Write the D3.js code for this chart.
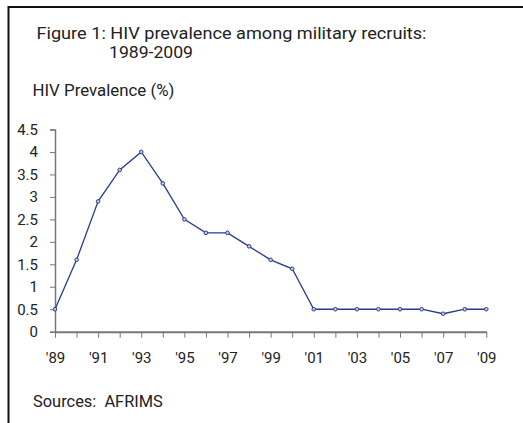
<!DOCTYPE html>
<html><head><meta charset="utf-8">
<script src="https://cdn.jsdelivr.net/npm/d3@7"></script>
<style>
body{margin:0;background:#fff;}
svg{display:block;}
text{font-family:Roboto,"Liberation Sans",sans-serif;fill:#222;white-space:pre;}
</style></head>
<body>
<svg id="c" width="523" height="423"></svg>
<script>
const years = [1989,1990,1991,1992,1993,1994,1995,1996,1997,1998,1999,2000,2001,2002,2003,2004,2005,2006,2007,2008,2009];
const prevalence = [0.5,1.6,2.9,3.6,4.0,3.3,2.5,2.2,2.2,1.9,1.6,1.4,0.5,0.5,0.5,0.5,0.5,0.5,0.4,0.5,0.5];
const yTicks = [0,0.5,1,1.5,2,2.5,3,3.5,4,4.5];
const xTickLabels = [1989,1991,1993,1995,1997,1999,2001,2003,2005,2007,2009];
const titleLine1 = "Figure 1: HIV prevalence among military recruits:";
const titleLine2 = "1989-2009";
const yTitle = "HIV Prevalence (%)";
const source = "Sources:  AFRIMS";

const svg = d3.select("#c");
// frame
svg.append("line").attr("x1",8.5).attr("x2",8.5).attr("y1",6).attr("y2",423).attr("stroke","#111").attr("stroke-width",2);
svg.append("line").attr("x1",8).attr("x2",523).attr("y1",7).attr("y2",7).attr("stroke","#111").attr("stroke-width",2);

function fit(sel, target){
  sel.attr("font-size",14);
  const w = sel.node().getComputedTextLength();
  sel.attr("font-size", 14*target/w);
  return sel;
}
svg.append("text").attr("x",36.5).attr("y",39).attr("font-size",16)
  .attr("textLength",390).attr("lengthAdjust","spacingAndGlyphs").text(titleLine1);
svg.append("text").attr("x",109).attr("y",58.2).attr("font-size",16)
  .attr("textLength",84).attr("lengthAdjust","spacingAndGlyphs").text(titleLine2);
fit(svg.append("text").attr("x",32.5).attr("y",96).text(yTitle), 142);
fit(svg.append("text").attr("x",33).attr("y",406.5).text(source), 130);

const x = d3.scaleLinear().domain([1989,2009]).range([55,486.3]);
const y = d3.scaleLinear().domain([0,4.5]).range([331.7,129.5]);

const tickFs = 15;
const axisColor = "#777";
// y axis
const ya = svg.append("g").attr("transform","translate(55,0)")
  .call(d3.axisLeft(y).tickValues(yTicks).tickSize(5).tickPadding(12).tickFormat(d3.format("")));
ya.select(".domain").attr("stroke",axisColor).attr("stroke-width",1.5);
ya.selectAll(".tick line").attr("stroke",axisColor).attr("stroke-width",1);
ya.selectAll(".tick text").attr("font-size",tickFs).attr("font-family","Roboto,sans-serif").attr("fill","#333");

// x axis
const xa = svg.append("g").attr("transform","translate(0,331.7)")
  .call(d3.axisBottom(x).tickValues(years).tickSize(6).tickPadding(15).tickSizeOuter(0)
    .tickFormat(d => xTickLabels.includes(d) ? "'" + String(d).slice(2) : ""));
xa.select(".domain").attr("stroke",axisColor).attr("stroke-width",2);
xa.selectAll(".tick line").attr("stroke",axisColor).attr("stroke-width",1);
xa.selectAll(".tick text").attr("font-size",tickFs).attr("font-family","Roboto,sans-serif").attr("fill","#333");

const data = years.map((yr,i)=>({yr, v: prevalence[i]}));
const lineColor = "#2b3a8c";
svg.append("path").datum(data)
  .attr("fill","none").attr("stroke",lineColor).attr("stroke-width",1.3)
  .attr("d", d3.line().x(d=>x(d.yr)).y(d=>y(d.v)));
svg.selectAll("circle.pt").data(data).enter().append("circle")
  .attr("class","pt").attr("cx",d=>x(d.yr)).attr("cy",d=>y(d.v)).attr("r",1.8)
  .attr("fill","#c8cce8").attr("stroke",lineColor).attr("stroke-width",1);
</script>
</body></html>
